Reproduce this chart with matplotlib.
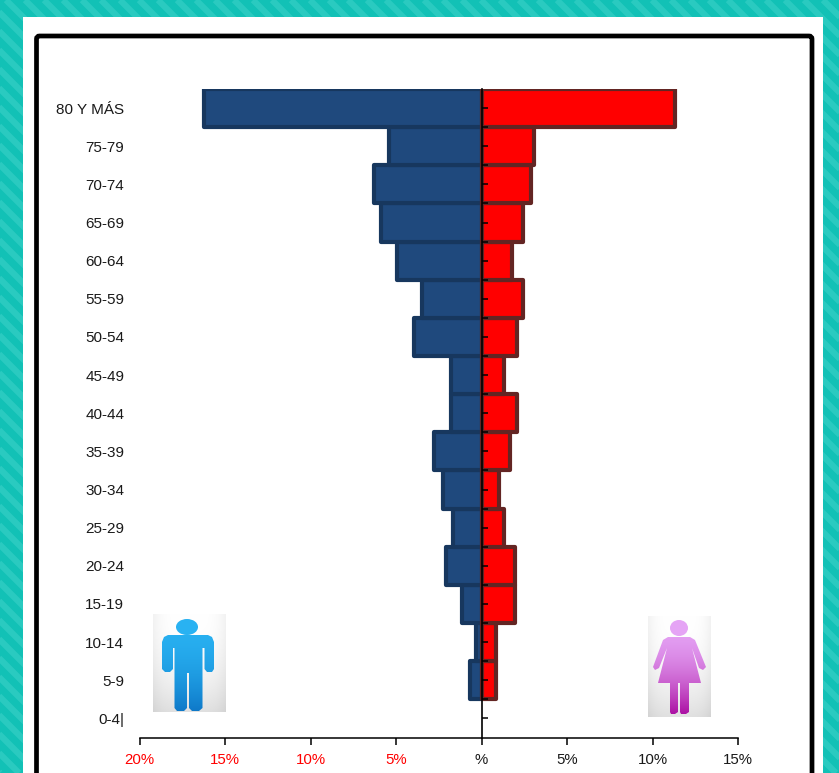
import matplotlib
matplotlib.use("Agg")
import matplotlib.pyplot as plt
import numpy as np
from matplotlib.patches import Ellipse, FancyBboxPatch, PathPatch, Rectangle
from matplotlib.path import Path
from matplotlib.ticker import FuncFormatter

plt.rcParams["font.family"] = ["Liberation Sans", "DejaVu Sans"]

# Age groups, bottom to top
ages = ["0-4|", "5-9", "10-14", "15-19", "20-24", "25-29", "30-34", "35-39", "40-44",
        "45-49", "50-54", "55-59", "60-64", "65-69", "70-74", "75-79", "80 Y MÁS"]
# Percent of population
men = [0, 0.65, 0.35, 1.15, 2.1, 1.65, 2.25, 2.75, 1.8, 1.8, 3.95, 3.5, 4.95, 5.9, 6.3, 5.4, 16.25]
women = [0, 0.85, 0.85, 1.95, 1.95, 1.3, 1.0, 1.65, 2.1, 1.3, 2.1, 2.45, 1.8, 2.45, 2.9, 3.05, 11.3]
xticks = [-20, -15, -10, -5, 0, 5, 10, 15]

W, H = 839, 773
fig = plt.figure(figsize=(W / 100, H / 100), dpi=100)

# Page background in pixel coordinates
bg = fig.add_axes([0, 0, 1, 1])
bg.set_xlim(0, W)
bg.set_ylim(H, 0)
bg.axis("off")
bg.add_patch(Rectangle((0, 0), W, H, fc="#12C1B6", ec="none", zorder=0))
for s in range(-H, W + 40, 19):
    bg.plot([s, s + H], [0, H], color="#2ACAC0", lw=4.5, solid_capstyle="butt", zorder=0.5)
bg.add_patch(Rectangle((23, 17), 800, H, fc="white", ec="none", zorder=1))
bg.add_patch(FancyBboxPatch((36.5, 36), 775.5, H, boxstyle="round,pad=0,rounding_size=3",
                            fc="white", ec="black", lw=3.4, zorder=1.5))


def icon(box, grad_top, grad_bottom, verts, head):
    x0, x1, y0, y1 = box
    # light backing card, greyer towards the edges and the bottom
    v = np.linspace(0, 1, 64).reshape(-1, 1)
    h = np.linspace(-1, 1, 64).reshape(1, -1)
    shade = 1 - 0.12 * v ** 2 - 0.05 * h ** 4
    back = np.dstack([shade] * 3)
    bg.imshow(back, extent=[x0, x1, y1, y0], aspect="auto", zorder=3)
    # coloured figure: gradient clipped to the silhouette
    c0 = np.array(matplotlib.colors.to_rgb(grad_top))
    c1 = np.array(matplotlib.colors.to_rgb(grad_bottom))
    t = np.linspace(0, 1, 128).reshape(-1, 1, 1)
    im = bg.imshow(c0 + (c1 - c0) * t ** 2, extent=[x0, x1, y1, y0], aspect="auto", zorder=4)
    codes = [Path.MOVETO] + [Path.LINETO] * (len(verts) - 2) + [Path.CLOSEPOLY]
    sil = PathPatch(Path(verts, codes), fc="none", ec="none", transform=bg.transData)
    im.set_clip_path(sil)
    cx, cy, rx, ry, col = head
    bg.add_patch(Ellipse((cx, cy), 2 * rx, 2 * ry, fc=col, ec="none", zorder=5))


man = [(168, 635), (208, 635), (212, 637), (214, 642), (214, 669), (212, 672), (207, 672), (204.5, 669),
       (204.5, 648), (202.5, 648), (202.5, 708), (199, 711), (192, 711), (189, 708), (189, 673),
       (187, 673), (187, 708), (184, 711), (177, 711), (174.5, 708), (174.5, 648), (173, 648),
       (173, 669), (170, 672), (165, 672), (162, 669), (162, 642), (164, 637), (168, 635)]
woman = [(668, 637), (690, 637), (695, 640), (706, 667), (703, 670), (699, 668), (692, 648),
         (701, 683), (689, 683), (689, 712), (686, 714), (681, 714), (680, 712), (680, 683),
         (678, 683), (678, 712), (675, 714), (671, 714), (670, 712), (670, 683), (658, 683),
         (667, 648), (659, 668), (655, 670), (653, 667), (663, 640), (668, 637)]
icon((153, 226, 614, 712), "#29B2F2", "#0E78C8", man, (187, 627, 11, 8, "#29B2F2"))
icon((648, 711, 616, 717), "#E5A4F5", "#A8089E", woman, (679, 628, 9, 8, "#E5A4F5"))
bg.set_xlim(0, W)
bg.set_ylim(H, 0)

# Main pyramid
left, right, top, bottom = 139.5, 738, 89, 737.5
pos = [left / W, 1 - bottom / H, (right - left) / W, (bottom - top) / H]
ax = fig.add_axes(pos)
ax.patch.set_alpha(0)
y = np.arange(len(ages))
# empty groups get no outline
ax.barh(y, -np.array(men), height=1, color="#1F497D", edgecolor="#17375E", zorder=2,
        lw=[3 if v > 0 else 0 for v in men], joinstyle="round")
ax.barh(y, women, height=1, color="#FF0000", edgecolor="#632523", zorder=2,
        lw=[3 if v > 0 else 0 for v in women], joinstyle="round")
ax.set_xlim(-20, 15)
ax.set_ylim(-0.5, 16.5)

for side in ["top", "right", "left"]:
    ax.spines[side].set_visible(False)
ax.spines["bottom"].set_linewidth(1.1)

ax.set_xticks(xticks)
ax.xaxis.set_major_formatter(FuncFormatter(lambda v, p: "%" if v == 0 else f"{abs(v):.0f}%"))
ax.tick_params(axis="x", length=5, width=1.1, pad=6, labelsize=10.8)
for v, lab in zip(xticks, ax.get_xticklabels()):
    lab.set_color("#FF0000" if v < 0 else "#1a1a1a")

ax.set_yticks(y)
ax.set_yticklabels(ages)
ax.tick_params(axis="y", length=0, pad=11, labelsize=11, labelcolor="#1a1a1a")

# Overlay holding the centre axis, ticks at group centres and boundaries
ax2 = fig.add_axes(pos)
ax2.patch.set_alpha(0)
ax2.set_xlim(-20, 15)
ax2.set_ylim(-0.5, 16.5)
for side in ["top", "right", "bottom"]:
    ax2.spines[side].set_visible(False)
ax2.spines["left"].set_position(("data", 0))
ax2.spines["left"].set_linewidth(1.2)
ax2.set_xticks([])
ax2.set_yticks(y)
ax2.set_yticks(y[:-1] + 0.5, minor=True)
ax2.set_yticklabels([])
ax2.tick_params(axis="y", which="both", direction="in", length=4, width=1.1)

fig.savefig("out.png", dpi=100)
